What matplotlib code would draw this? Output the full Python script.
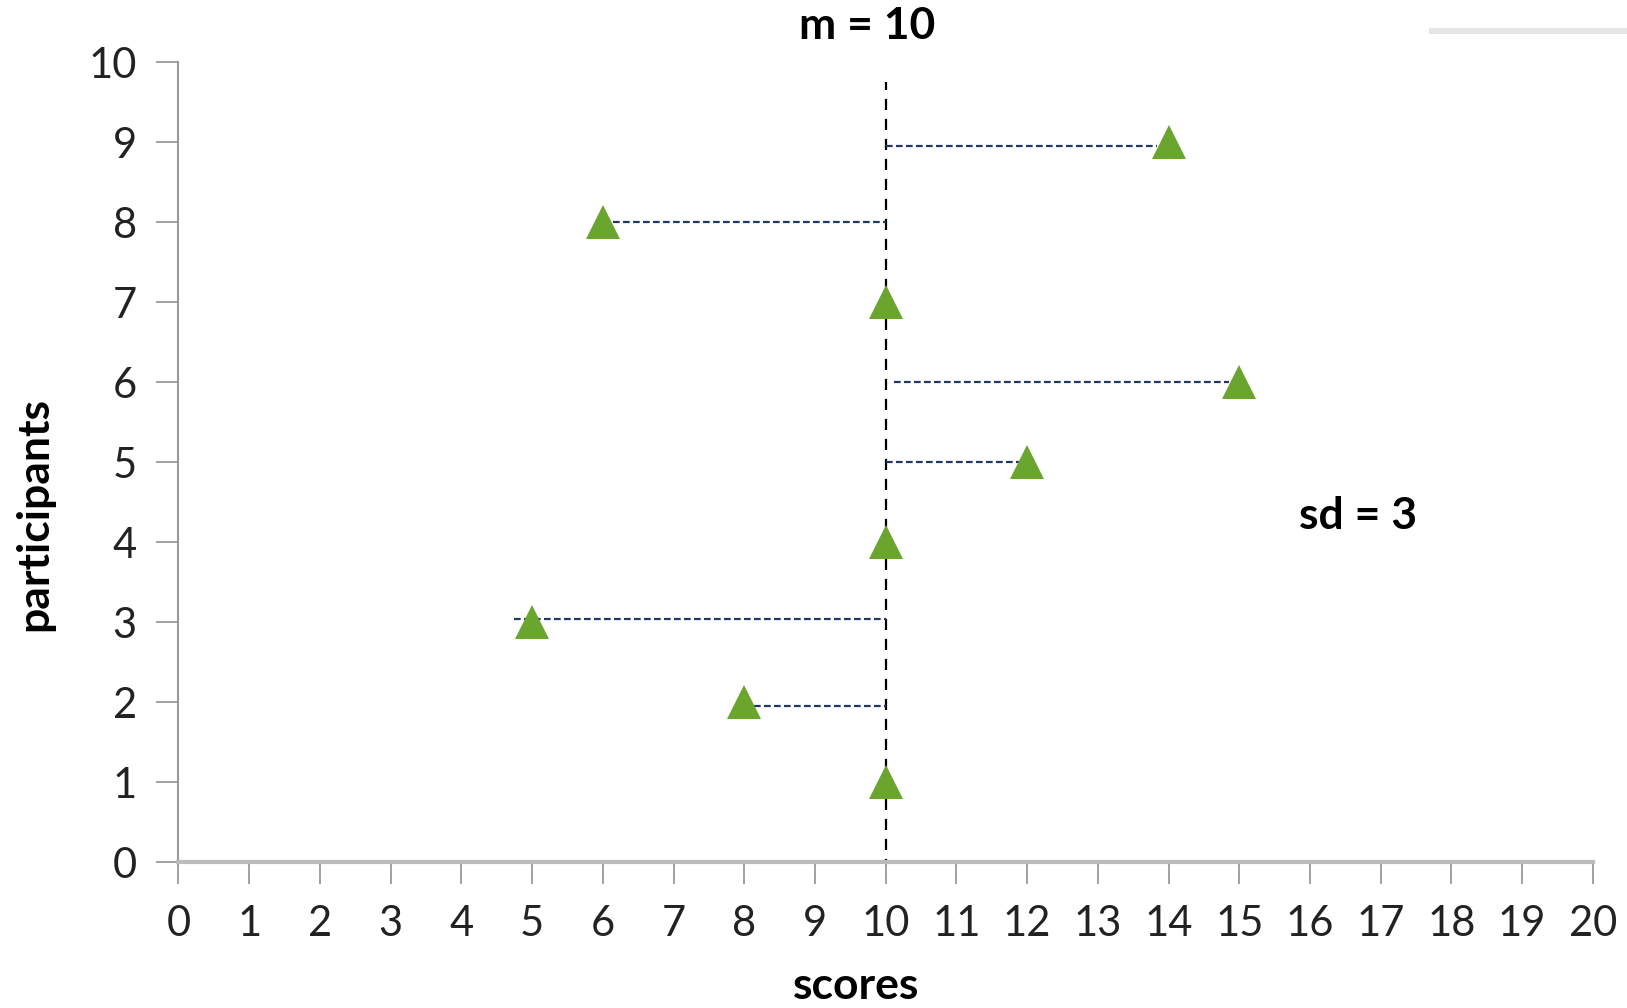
import matplotlib
matplotlib.use("Agg")
from matplotlib import pyplot as plt
from matplotlib.patches import Rectangle

plt.rcParams["font.family"] = ["Lato", "DejaVu Sans"]

# data
participants = [1, 2, 3, 4, 5, 6, 7, 8, 9]
scores = [10, 8, 5, 10, 12, 15, 10, 6, 14]
mean_score = 10
sd_score = 3

# deviation lines drawn in the original (y level, x start, x end)
dev_y = [8.95, 8.0, 6.0, 5.0, 3.04, 1.95]
dev_x0 = [10.0, 6.0, 10.12, 10.0, 4.75, 8.0]
dev_x1 = [13.84, 10.0, 14.86, 11.93, 10.0, 10.0]

fig = plt.figure(figsize=(16.27, 10.08), dpi=100)
ax = fig.add_axes([0.1097, 0.1446, 0.8693, 0.7936])

ax.vlines(mean_score, -0.1, 9.75, color="black", linestyle=(0, (5, 4)), lw=1.6, zorder=2)
ax.hlines(dev_y, dev_x0, dev_x1, color="#1F3864", linestyle=(0, (3, 1.5)), lw=1.6, zorder=2)
ax.plot(scores, participants, linestyle="none", marker="^", ms=24,
        color="#6AA52E", markeredgewidth=0, zorder=3)

ax.set_xlim(0, 20)
ax.set_ylim(0, 10)
ax.set_xticks(range(0, 21))
ax.set_yticks(range(0, 11))
for s in ["top", "right"]:
    ax.spines[s].set_visible(False)
ax.spines["left"].set_color("#999999")
ax.spines["left"].set_linewidth(1.5)
ax.spines["bottom"].set_color("#BBBBBB")
ax.spines["bottom"].set_linewidth(3)
ax.tick_params(axis="both", colors="#999999", length=16, width=1.3, labelsize=30,
               labelcolor="#222222")
ax.tick_params(axis="x", pad=15)
ax.tick_params(axis="y", pad=14)

fig.text(0.526, 0.022, "scores", fontsize=32, fontweight="bold", ha="center", va="center")
fig.text(0.021, 0.490, "participants", fontsize=32, fontweight="bold", ha="center",
         va="center", rotation=90)
fig.text(0.533, 0.974, "m = 10", fontsize=32, fontweight="bold", ha="center", va="center")
fig.text(0.835, 0.488, "sd = 3", fontsize=32, fontweight="bold", ha="center", va="center")

fig.patches.append(Rectangle((0.878, 0.966), 0.122, 0.006, transform=fig.transFigure,
                             facecolor="#E6E6E6", edgecolor="none"))

fig.savefig("out.png", dpi=100)
